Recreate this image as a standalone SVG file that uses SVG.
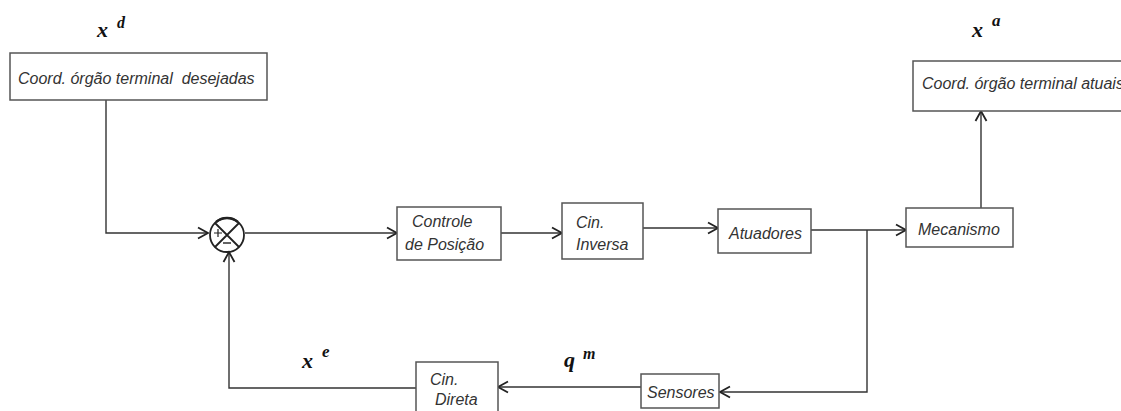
<svg xmlns="http://www.w3.org/2000/svg" width="1121" height="411" viewBox="0 0 1121 411">
  <style>
    .box { fill: #fff; stroke: #555; stroke-width: 1.5; }
    .lbl { font-family: "Liberation Sans", Arial, sans-serif; font-style: italic; font-size: 16px; fill: #333; }
    .var { font-family: "Liberation Serif", "Times New Roman", serif; font-style: italic; font-weight: bold; fill: #111; }
    .wire { fill: none; stroke: #333; stroke-width: 1.4; }
    .sum { fill: none; stroke: #222; stroke-width: 1.8; }
  </style>
  <defs>
    <marker id="arrow" markerUnits="userSpaceOnUse" markerWidth="14" markerHeight="14" refX="10" refY="5.5" orient="auto" overflow="visible">
      <path d="M0,0 L10,5.5 L0,11" fill="none" stroke="#222" stroke-width="1.8"/>
    </marker>
  </defs>

  <rect width="1121" height="411" fill="#fff"/>

  <!-- signal labels -->
  <g id="label-xd">
    <text class="var" x="97" y="37" font-size="22">x</text>
    <text class="var" x="117" y="28" font-size="16">d</text>
  </g>
  <g id="label-xa">
    <text class="var" x="972" y="37" font-size="22">x</text>
    <text class="var" x="992" y="26" font-size="17">a</text>
  </g>
  <g id="label-xe">
    <text class="var" x="302" y="368" font-size="22">x</text>
    <text class="var" x="322" y="357" font-size="17">e</text>
  </g>
  <g id="label-qm">
    <text class="var" x="564" y="367" font-size="22">q</text>
    <text class="var" x="583" y="359" font-size="16" font-weight="normal">m</text>
  </g>

  <!-- connectors -->
  <g id="connectors">
    <path class="wire" d="M106,100 V233 H208" marker-end="url(#arrow)"/>
    <path class="wire" d="M416,388 H229 V252" marker-end="url(#arrow)"/>
    <path class="wire" d="M245,233 H397" marker-end="url(#arrow)"/>
    <path class="wire" d="M501,233 H562" marker-end="url(#arrow)"/>
    <path class="wire" d="M643,228 H718" marker-end="url(#arrow)"/>
    <path class="wire" d="M811,230 H906" marker-end="url(#arrow)"/>
    <path class="wire" d="M867,230 V392 H720" marker-end="url(#arrow)"/>
    <path class="wire" d="M641,387 H498" marker-end="url(#arrow)"/>
    <path class="wire" d="M981,208 V111" marker-end="url(#arrow)"/>
  </g>

  <!-- nodes -->
  <g id="desired-coords">
    <rect class="box" x="10" y="53" width="257" height="47"/>
    <text class="lbl" x="18" y="84" xml:space="preserve">Coord. órgão terminal  desejadas</text>
  </g>

  <g id="summing-junction">
    <circle class="sum" cx="227" cy="235" r="17"/>
    <!-- heavier top rim -->
    <path d="M216.1,222 A17,17 0 0 1 237.9,222" fill="none" stroke="#222" stroke-width="2.6"/>
    <path class="sum" d="M215,223 L239,247 M239,223 L215,247" stroke-width="1.5"/>
    <path d="M214,233 h8 M218,229 v8" stroke="#222" stroke-width="1.2"/>
    <path d="M223,243 h8" stroke="#222" stroke-width="1.4"/>
  </g>

  <g id="position-control">
    <rect class="box" x="397" y="207" width="104" height="53"/>
    <text class="lbl" x="412" y="227">Controle</text>
    <text class="lbl" x="405" y="250">de Posição</text>
  </g>

  <g id="inverse-kinematics">
    <rect class="box" x="562" y="203" width="81" height="56"/>
    <text class="lbl" x="576" y="228">Cin.</text>
    <text class="lbl" x="576" y="250">Inversa</text>
  </g>

  <g id="actuators">
    <rect class="box" x="718" y="209" width="93" height="44"/>
    <text class="lbl" x="729" y="239">Atuadores</text>
  </g>

  <g id="mechanism">
    <rect class="box" x="906" y="208" width="107" height="39"/>
    <text class="lbl" x="918" y="235">Mecanismo</text>
  </g>

  <g id="actual-coords">
    <rect class="box" x="913" y="61" width="220" height="50"/>
    <text class="lbl" x="922" y="89">Coord. órgão terminal atuais</text>
  </g>

  <g id="sensors">
    <rect class="box" x="641" y="374" width="78" height="34"/>
    <text class="lbl" x="647" y="398">Sensores</text>
  </g>

  <g id="direct-kinematics">
    <rect class="box" x="416" y="362" width="82" height="60"/>
    <text class="lbl" x="430" y="385">Cin.</text>
    <text class="lbl" x="435" y="405">Direta</text>
  </g>
</svg>
